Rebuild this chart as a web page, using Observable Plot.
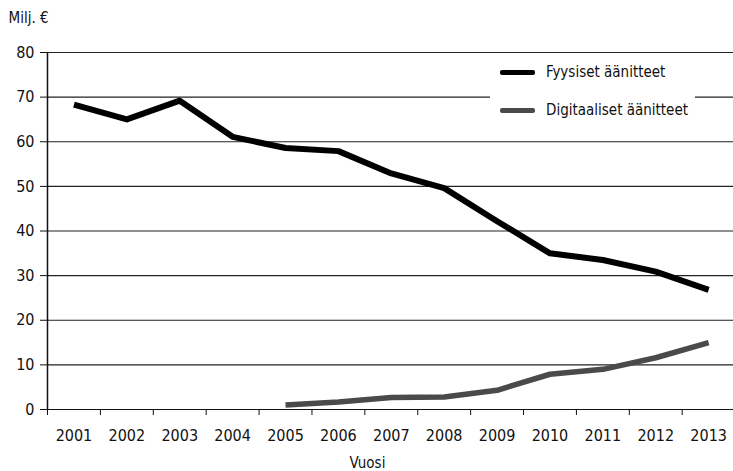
<!DOCTYPE html>
<html><head><meta charset="utf-8">
<script src="https://cdn.jsdelivr.net/npm/d3@7"></script>
<script src="https://cdn.jsdelivr.net/npm/@observablehq/plot@0.6"></script>
<style>
body{margin:0;background:#fff;}
#wrap{position:relative;width:733px;height:471px;font-family:"DejaVu Sans Condensed","DejaVu Sans",sans-serif;font-stretch:condensed;}
#wrap svg text{font-stretch:condensed;}
#legend{position:absolute;left:490px;top:60px;width:205px;height:62px;background:#fff;}
.item{position:absolute;left:10px;height:20px;display:flex;align-items:center;font-size:15px;color:#111;white-space:nowrap;}
.sw{width:35px;height:5px;margin-right:11px;border-radius:2px;}
</style></head><body><div id="wrap"></div>
<script>
const years = [2001,2002,2003,2004,2005,2006,2007,2008,2009,2010,2011,2012,2013];
const fyysiset = [68.3,65.0,69.2,61.1,58.6,57.9,52.9,49.6,42.2,35.0,33.5,30.9,26.8];
const digiYears = [2005,2006,2007,2008,2009,2010,2011,2012,2013];
const digitaaliset = [1.0,1.7,2.7,2.8,4.3,7.9,9.0,11.6,15.0];
const yTicks = [0,10,20,30,40,50,60,70,80];
const seriesNames = ["Fyysiset äänitteet","Digitaaliset äänitteet"];
const seriesColors = ["#000000","#4a4a4a"];
const yUnit = "Milj. €";
const xTitle = "Vuosi";

const phys = years.map((y,i)=>({year:y,value:fyysiset[i]}));
const digi = digiYears.map((y,i)=>({year:y,value:digitaaliset[i]}));
const bounds = years.map(y=>y-0.5).concat([years[years.length-1]+0.5]);
const FONT = '"DejaVu Sans Condensed","DejaVu Sans",sans-serif';

const chart = Plot.plot({
  width:733, height:471,
  marginLeft:47, marginRight:0, marginTop:52, marginBottom:62,
  style:{fontFamily:FONT, fontSize:"15px", color:"#111", background:"#fff"},
  x:{domain:[2000.5,2013.47], axis:null},
  y:{domain:[0,80], axis:null},
  marks:[
    Plot.gridY(yTicks,{stroke:"#222", strokeOpacity:1, strokeWidth:1.2}),
    Plot.axisY(yTicks,{tickSize:7, tickPadding:6, stroke:"#111", fontSize:16, label:null}),
    Plot.ruleX([2000.5],{stroke:"#111", strokeWidth:1.5}),
    Plot.ruleY([0],{stroke:"#111", strokeWidth:1.2}),
    Plot.axisX(bounds,{tickSize:6, tickFormat:()=>"", stroke:"#111", label:null}),
    Plot.axisX(years,{tickSize:0, tickPadding:20, tickFormat:d=>String(d), fontSize:16, label:null}),
    Plot.line(phys,{x:"year", y:"value", stroke:seriesColors[0], strokeWidth:6, strokeLinejoin:"round", strokeLinecap:"butt"}),
    Plot.line(digi,{x:"year", y:"value", stroke:seriesColors[1], strokeWidth:5.5, strokeLinejoin:"round", strokeLinecap:"butt"}),
    Plot.text([yUnit],{frameAnchor:"top-left", dx:-39, dy:-40, textAnchor:"start", fontSize:15, fill:"#111"}),
    Plot.text([xTitle],{frameAnchor:"bottom", dx:-23, dy:58, fontSize:15, fill:"#111"})
  ]
});
const wrap = document.getElementById("wrap");
wrap.appendChild(chart);
const leg = document.createElement("div");
leg.id = "legend";
seriesNames.forEach((n,i)=>{
  const it = document.createElement("div");
  it.className = "item";
  it.style.top = (i===0 ? 2 : 40) + "px";
  const sw = document.createElement("span");
  sw.className = "sw"; sw.style.background = seriesColors[i];
  const t = document.createElement("span"); t.textContent = n;
  it.appendChild(sw); it.appendChild(t);
  leg.appendChild(it);
});
wrap.appendChild(leg);
</script></body></html>
